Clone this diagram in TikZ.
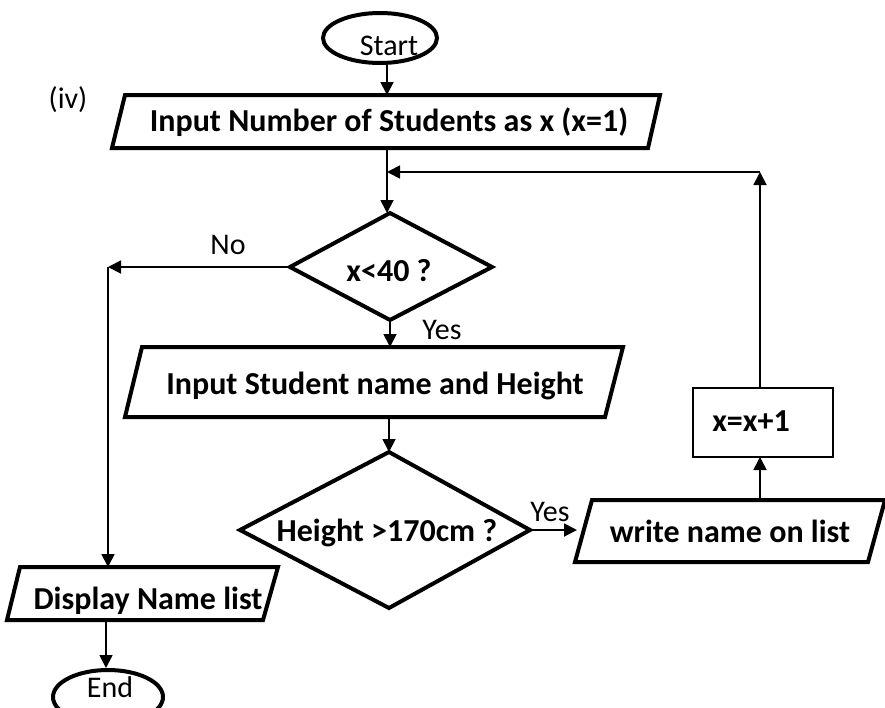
\documentclass[tikz,border=0pt]{standalone}
\usepackage{fontspec}
\setmainfont{Carlito}
\usetikzlibrary{arrows.meta,shapes.geometric}
\begin{document}
\begin{tikzpicture}[x=1pt,y=-1pt,
  thickline/.style={line width=4pt, line join=miter},
  conn/.style={line width=1.8pt, -{Triangle[length=13pt,width=13pt]}},
  plain/.style={line width=1.8pt},
  lbl/.style={font=\fontsize{32}{38}\selectfont\bfseries, inner sep=0pt, anchor=base},
  txt/.style={font=\fontsize{30}{36}\selectfont, inner sep=0pt, anchor=base},
  term/.style={ellipse, draw, line width=4pt, inner sep=0pt}]
\useasboundingbox (0,0) rectangle (885,707);

% terminals
\node[term, minimum width=114pt, minimum height=50pt] (start) at (380,38) {};
\node[txt] (starttxt) at (389,55) {Start};
\node[term, minimum width=110pt, minimum height=54pt] (end) at (108,697) {};
\node[txt] (endtxt) at (110,697) {End};

\node[txt] (iv) at (68,108) {(iv)};

% parallelogram 1
\draw[thickline] (125,95) -- (660,95) -- (648,148) -- (112,148) -- cycle;
\node[lbl] (p1) at (389,131) {Input Number of Students as x (x=1)};
\coordinate (p1n) at (387,95);
\coordinate (p1s) at (387,148);

% decision 1
\draw[thickline] (390,213) -- (492,267) -- (390,320) -- (290,267) -- cycle;
\node[lbl] (d1) at (389,281) {x<40 ?};
\coordinate (d1n) at (387,213);
\coordinate (d1s) at (390,320);
\coordinate (d1w) at (290,267);
\coordinate (join) at (387,172);

% parallelogram 2
\draw[thickline] (142,347) -- (623,347) -- (605,417) -- (125,417) -- cycle;
\node[lbl] (p2) at (375,394) {Input Student name and Height};
\coordinate (p2n) at (390,347);
\coordinate (p2s) at (389,417);

% decision 2
\draw[thickline] (389,452) -- (530,530) -- (389,608) -- (240,530) -- cycle;
\node[lbl] (d2) at (387,541) {Height >170cm ?};
\coordinate (d2n) at (389,452);
\coordinate (d2e) at (530,530);

% write parallelogram
\draw[thickline] (592,500) -- (885,500) -- (868,562) -- (575,562) -- cycle;
\node[lbl] (wr) at (730,542) {write name on list};
\coordinate (wrw) at (577,530);
\coordinate (wrn) at (760,500);

% increment box
\draw[line width=1.5pt] (693,388) rectangle (833,457);
\node[lbl] (inc) at (751,431) {x=x+1};
\coordinate (incs) at (760,457);
\coordinate (incn) at (760,388);
\coordinate (loopc) at (760,172);

% display parallelogram
\draw[thickline] (20,567) -- (278,567) -- (263,620) -- (7,620) -- cycle;
\node[lbl] (disp) at (148,609) {Display Name list};
\coordinate (dispn) at (108,567);
\coordinate (disps) at (106,620);
\coordinate (nocorner) at (108,267);

% connectors
\draw[conn] (start.south -| p1n) -- (p1n);
\draw[conn] (p1s) -- (d1n);
\draw[conn] (d1w) -- (nocorner);
\node[txt] (no) at (228,254) {No};
\draw[conn] (nocorner) -- (dispn);
\draw[conn] (d1s) -- (p2n);
\node[txt] (yes1) at (442,339) {Yes};
\draw[conn] (p2s) -- (d2n);
\draw[conn] (d2e) -- (wrw);
\node[txt] (yes2) at (550,521) {Yes};
\draw[conn] (wrn) -- (incs);
\draw[conn] (incn) -- (loopc);
\draw[conn] (loopc) -- (join);
\draw[conn] (disps) -- (disps |- end.north);
\end{tikzpicture}
\end{document}
